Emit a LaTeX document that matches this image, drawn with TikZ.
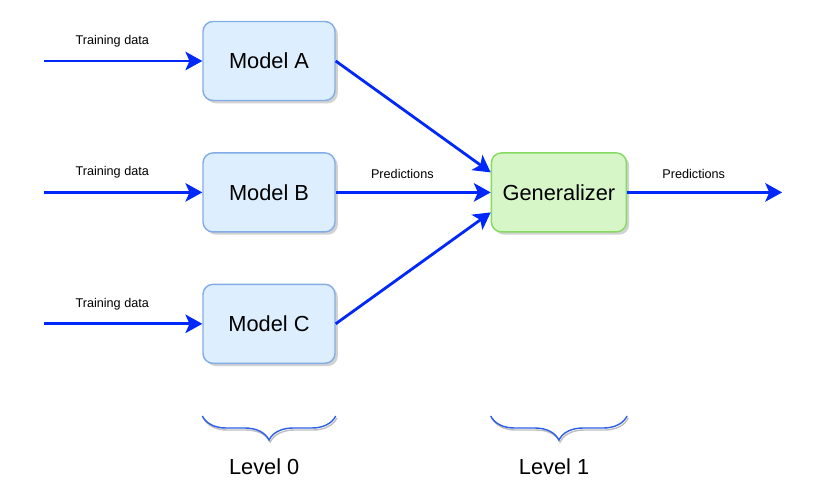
\documentclass[tikz,border=0pt]{standalone}
\usepackage{fontspec}
\setmainfont{Liberation Sans}
\usetikzlibrary{arrows.meta, positioning, shadows, decorations.pathreplacing, calc}
\definecolor{modelfill}{RGB}{221,238,255}
\definecolor{modeldraw}{RGB}{130,172,230}
\definecolor{genfill}{RGB}{214,246,200}
\definecolor{gendraw}{RGB}{134,218,96}
\definecolor{flowblue}{RGB}{0,40,250}
\definecolor{braceblue}{RGB}{45,95,230}
\tikzset{
    model/.style={rectangle, rounded corners=0.25cm, draw=modeldraw, fill=modelfill, line width=1pt, minimum width=3.3cm, minimum height=1.975cm, font=\fontsize{15.5}{18}\selectfont, drop shadow={shadow xshift=0.07cm, shadow yshift=-0.07cm, fill=black!35, opacity=0.5}},
    general/.style={model, draw=gendraw, fill=genfill, minimum width=3.375cm},
    arrow/.style={-{Stealth[length=0.42cm, width=0.46cm, inset=0.1cm]}, line width=2pt, draw=flowblue, fill=flowblue},
    tag/.style={font=\fontsize{9}{11}\selectfont, above=0.2cm, pos=0.43},
    level/.style={font=\fontsize{15.5}{18}\selectfont},
    bracket/.style={decorate, decoration={brace, mirror, amplitude=0.6cm}, line width=1pt},
}

\begin{document}
\begin{tikzpicture}
    \useasboundingbox (0,0) rectangle (20.4,-12.275);

    % level 0 models
    \node[model] (modelA) at (6.725,-1.525) {Model A};
    \node[model, below=1.275cm of modelA] (modelB) {Model B};
    \node[model, below=1.275cm of modelB] (modelC) {Model C};

    % level 1
    \node[general, right=3.875cm of modelB] (gen) {Generalizer};

    % input and output ends
    \coordinate[left=3.95cm of modelA.west] (inA);
    \coordinate[left=3.95cm of modelB.west] (inB);
    \coordinate[left=3.95cm of modelC.west] (inC);
    \coordinate[right=3.875cm of gen.east] (out);

    % Arrows
    \draw[arrow] (inA) -- node[tag] {Training data} (modelA.west);
    \draw[arrow] (inB) -- node[tag] {Training data} (modelB.west);
    \draw[arrow] (inC) -- node[tag] {Training data} (modelC.west);
    \draw[arrow] (modelA.east) -- ([yshift=0.5cm]gen.west);
    \draw[arrow] (modelB.east) -- node[tag] {Predictions} (gen.west);
    \draw[arrow] (modelC.east) -- ([yshift=-0.5cm]gen.west);
    \draw[arrow] (gen.east) -- node[tag] {Predictions} (out);

    % braces
    \coordinate (b0l) at ([yshift=-1.3cm]modelC.south west);
    \coordinate (b0r) at ([yshift=-1.3cm]modelC.south east);
    \coordinate (b1l) at (gen.west |- b0l);
    \coordinate (b1r) at (gen.east |- b0l);
    \draw[bracket, black!25, transform canvas={xshift=0.03cm, yshift=-0.05cm}] (b0l) -- (b0r);
    \draw[bracket, black!25, transform canvas={xshift=0.03cm, yshift=-0.05cm}] (b1l) -- (b1r);
    \draw[bracket, braceblue] (b0l) -- (b0r);
    \draw[bracket, braceblue] (b1l) -- (b1r);
    \node[level, below=0.95cm of $(b0l)!0.5!(b0r)$, xshift=-0.12cm] (level0) {Level 0};
    \node[level, below=0.95cm of $(b1l)!0.5!(b1r)$, xshift=-0.12cm] (level1) {Level 1};
\end{tikzpicture}
\end{document}
